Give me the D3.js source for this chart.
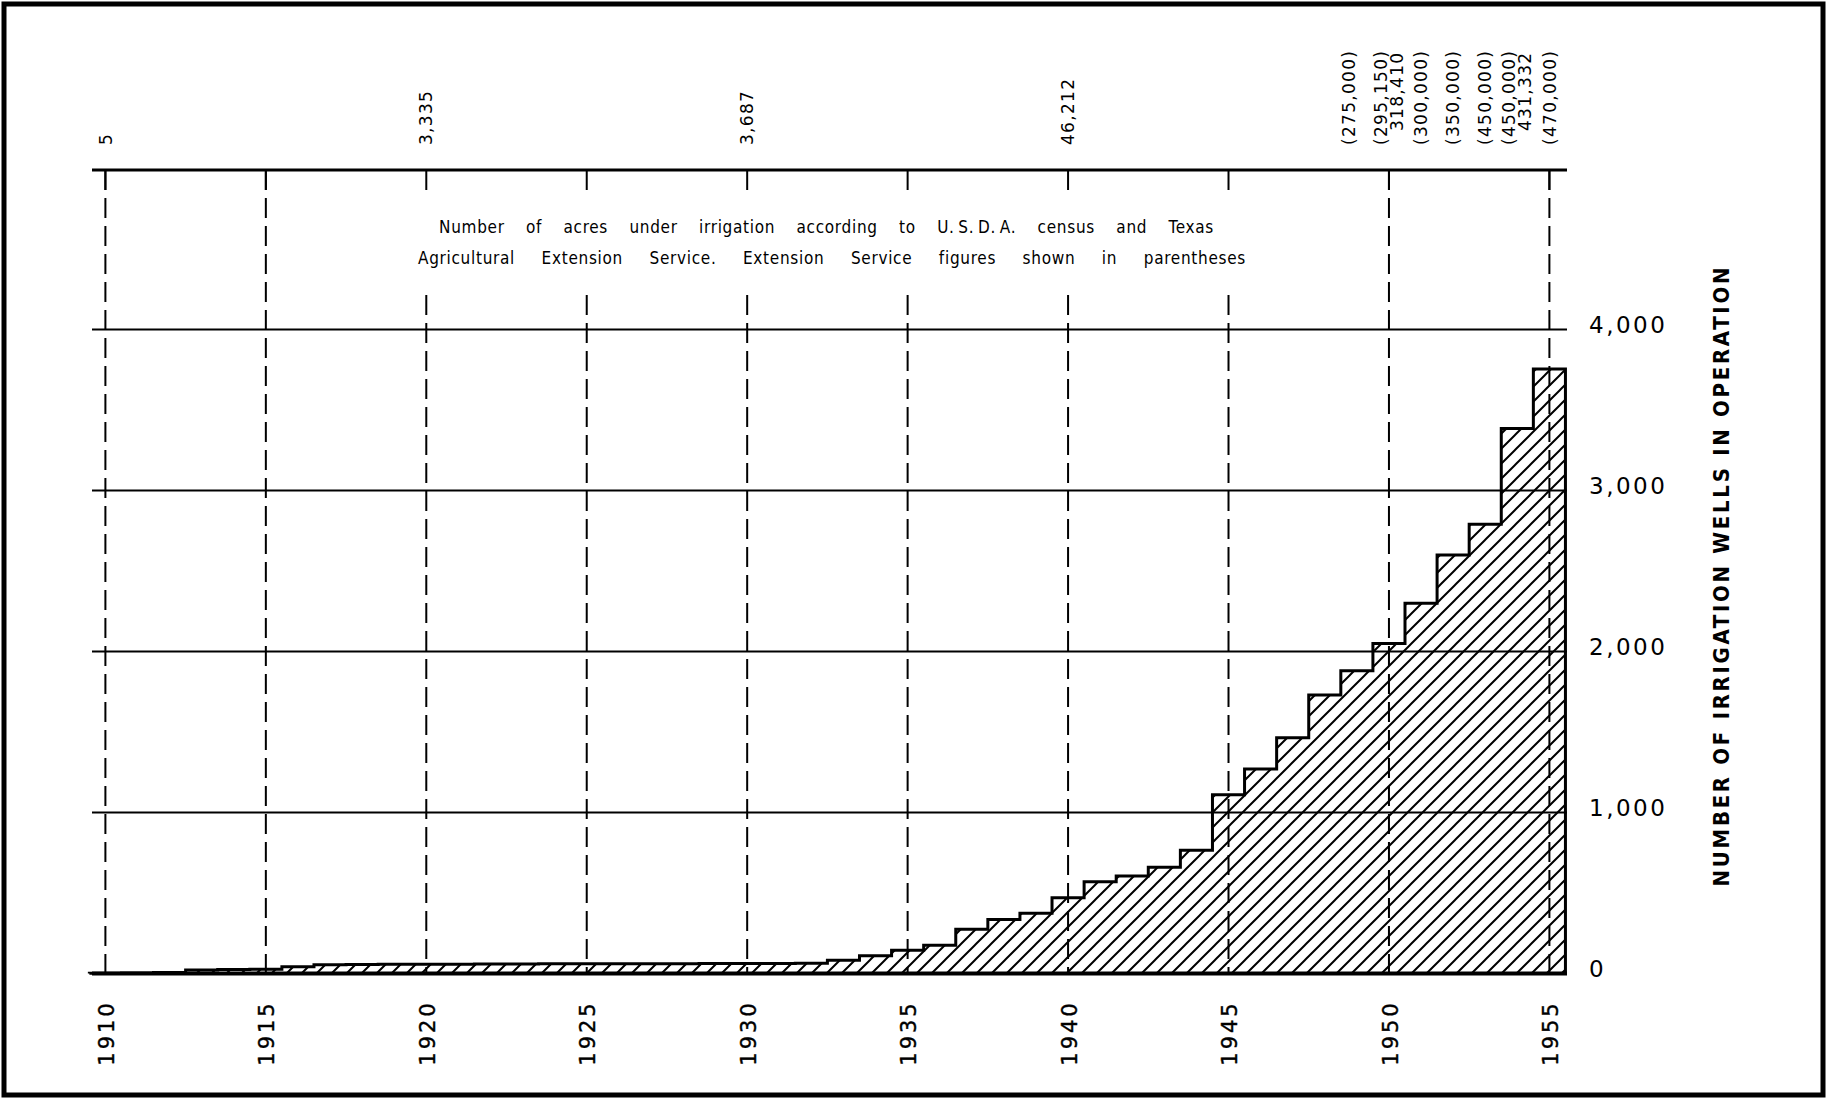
<!DOCTYPE html>
<html>
<head>
<meta charset="utf-8">
<script src="https://cdn.jsdelivr.net/npm/d3@7"></script>
<style>
  html, body { margin: 0; padding: 0; background: #fff; }
  svg { display: block; }
</style>
</head>
<body>
<svg id="chart" width="1836" height="1100"></svg>
<script>
// ---------------- DATA ----------------
const years = [1910,1911,1912,1913,1914,1915,1916,1917,1918,1919,
               1920,1921,1922,1923,1924,1925,1926,1927,1928,1929,
               1930,1931,1932,1933,1934,1935,1936,1937,1938,1939,
               1940,1941,1942,1943,1944,1945,1946,1947,1948,1949,
               1950,1951,1952,1953,1954,1955];
const wells = [2,3,6,22,25,27,42,55,56,57,
               58,58,59,59,60,60,60,61,61,62,
               62,62,63,82,110,145,176,275,335,375,
               470,570,605,660,765,1110,1270,1465,1730,1880,
               2050,2300,2600,2790,3385,3755];
const yearTicks = [1910,1915,1920,1925,1930,1935,1940,1945,1950,1955];
const wellTicks = [0,1000,2000,3000,4000];
const acreYears  = [1910,1920,1930,1940,1949,1950,1950,1951,1952,1953,1954,1954,1955];
const acreLabels = ["5","3,335","3,687","46,212","(275,000)","(295,150)","318,410",
                    "(300,000)","(350,000)","(450,000)","(450,000)","431,332","(470,000)"];
const noteLines = ["Number of acres under irrigation according to U.\u2009S.\u2009D.\u2009A. census and Texas",
                   "Agricultural Extension Service. Extension Service figures shown in parentheses"];
const yTitle = "NUMBER OF IRRIGATION WELLS IN OPERATION";

// ---------------- LAYOUT ----------------
const svg = d3.select("#chart");
const numFont = "'DejaVu Sans', 'Noto Sans', sans-serif";
const condFont = "'DejaVu Sans Condensed', 'Liberation Sans Narrow', 'DejaVu Sans', sans-serif";

const x = d3.scaleLinear().domain([1910, 1955]).range([105.4, 1549.4]);
const y = d3.scaleLinear().domain([0, 4000]).range([973.5, 329.5]);
const left = 92, right = 1567, topLine = 170;

// frame
svg.append("rect").attr("x", 4).attr("y", 4).attr("width", 1819).attr("height", 1091)
  .attr("fill", "none").attr("stroke", "#000").attr("stroke-width", 5);

// hatch pattern
const defs = svg.append("defs");
const pat = defs.append("pattern").attr("id", "hatch")
  .attr("patternUnits", "userSpaceOnUse").attr("width", 15).attr("height", 15);
pat.append("rect").attr("width", 15).attr("height", 15).attr("fill", "#fff");
pat.append("path").attr("d", "M-4,4 L4,-4 M0,15 L15,0 M11,19 L19,11")
  .attr("stroke", "#000").attr("stroke-width", 2);

// step data (steps centred on each year)
const stepPts = years.map((yr, i) => ({ x: yr - 0.5, v: wells[i] }));
stepPts.push({ x: years[years.length - 1] + 0.5, v: wells[wells.length - 1] });

const area = d3.area().curve(d3.curveStepAfter)
  .x(d => x(d.x)).y0(y(0)).y1(d => y(d.v));
svg.append("path").datum(stepPts).attr("d", area).attr("fill", "url(#hatch)");

// horizontal gridlines
svg.append("g").selectAll("line").data(wellTicks.filter(v => v > 0)).join("line")
  .attr("x1", left).attr("x2", right).attr("y1", d => y(d)).attr("y2", d => y(d))
  .attr("stroke", "#000").attr("stroke-width", 2);

// top axis line
svg.append("line").attr("x1", left).attr("x2", right).attr("y1", topLine).attr("y2", topLine)
  .attr("stroke", "#000").attr("stroke-width", 3);

// vertical dashed lines & ticks
const fullDash = new Set([1910, 1915, 1950, 1955]);
const vg = svg.append("g");
yearTicks.forEach(yr => {
  const xx = x(yr);
  vg.append("line").attr("x1", xx).attr("x2", xx).attr("y1", topLine).attr("y2", topLine + 20)
    .attr("stroke", "#000").attr("stroke-width", 2);
  vg.append("line").attr("x1", xx).attr("x2", xx)
    .attr("y1", fullDash.has(yr) ? topLine : 295).attr("y2", y(0))
    .attr("stroke", "#000").attr("stroke-width", 2)
    .attr("stroke-dasharray", "20,8");
});

// step outline
const outline = [{ x: years[0] - 0.5, v: 0 }, ...stepPts, { x: years[years.length - 1] + 0.5, v: 0 }];
const line = d3.line().curve(d3.curveStepAfter).x(d => x(d.x)).y(d => y(d.v));
svg.append("path").datum(outline).attr("d", line)
  .attr("fill", "none").attr("stroke", "#000").attr("stroke-width", 3).attr("stroke-linejoin", "miter");

// baseline
svg.append("line").attr("x1", left).attr("x2", right).attr("y1", y(0)).attr("y2", y(0))
  .attr("stroke", "#000").attr("stroke-width", 4);

// right axis labels
const yAxis = d3.axisRight(y).tickValues(wellTicks).tickSize(0).tickPadding(0)
  .tickFormat(d3.format(","));
const ya = svg.append("g").attr("transform", `translate(1589,-4)`).call(yAxis);
ya.select(".domain").remove();
ya.selectAll("text").attr("font-family", numFont).attr("font-size", 23)
  .attr("letter-spacing", "2.5px").attr("fill", "#000");

// right title
svg.append("text")
  .attr("transform", "translate(1721,577) rotate(-90)")
  .attr("text-anchor", "middle").attr("dy", "0.35em")
  .attr("font-family", condFont).attr("font-weight", "bold").attr("font-size", 22)
  .attr("textLength", 619).attr("lengthAdjust", "spacing")
  .text(yTitle);

// bottom year labels
svg.append("g").selectAll("text").data(yearTicks).join("text")
  .attr("transform", d => `translate(${x(d) + 1},1033) rotate(-90)`)
  .attr("text-anchor", "middle").attr("dy", "0.36em")
  .attr("font-family", numFont).attr("font-size", 21).attr("letter-spacing", "3px")
  .attr("stroke", "#000").attr("stroke-width", 0.4)
  .text(d => d);

// top acreage labels
const counts = {};
const acre = acreYears.map((yr, i) => {
  counts[yr] = (counts[yr] || 0) + 1;
  return { yr, label: acreLabels[i], idx: counts[yr] - 1 };
});
const total = d3.rollup(acreYears, v => v.length, d => d);
svg.append("g").selectAll("text").data(acre).join("text")
  .attr("transform", d => {
    const n = total.get(d.yr);
    const off = n > 1 ? (d.idx === 0 ? -8 : 8) : (d.yr === 1949 ? -8 : 0);
    const base = (n > 1 && d.idx === 1) ? 131 : 145;
    return `translate(${x(d.yr) + off},${base}) rotate(-90)`;
  })
  .attr("text-anchor", "start").attr("dy", "0.36em")
  .attr("font-family", numFont).attr("font-size", 17).attr("letter-spacing", "1.3px")
  .text(d => d.label);

// annotation note: fit line width with word spacing
const noteG = svg.append("g");
const noteSpecs = [{ x: 439, y: 233, w: 775 }, { x: 418, y: 264, w: 828 }];
noteLines.forEach((t, i) => {
  const s = noteSpecs[i];
  const el = noteG.append("text").attr("x", s.x).attr("y", s.y)
    .attr("font-family", condFont).attr("font-size", 17)
    .attr("letter-spacing", "0.7px").text(t);
  const nat = el.node().getComputedTextLength();
  const nSp = (t.match(/ /g) || []).length;
  const ws = Math.max(0, (s.w - nat) / nSp);
  el.attr("word-spacing", ws + "px");
});
</script>
</body>
</html>
